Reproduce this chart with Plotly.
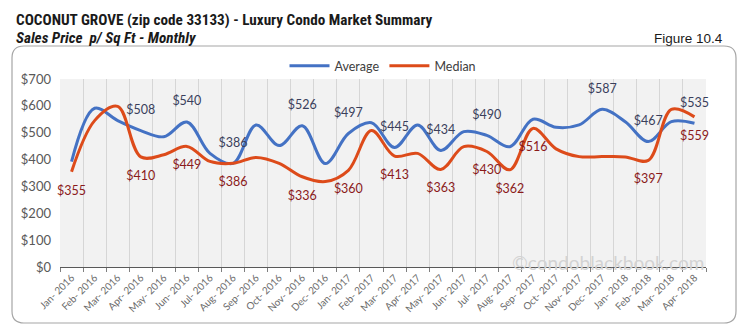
import plotly.graph_objects as go

months = ["Jan- 2016", "Feb- 2016", "Mar- 2016", "Apr- 2016", "May- 2016", "Jun- 2016", "Jul- 2016",
          "Aug- 2016", "Sep- 2016", "Oct- 2016", "Nov- 2016", "Dec- 2016", "Jan- 2017", "Feb- 2017",
          "Mar- 2017", "Apr- 2017", "May- 2017", "Jun- 2017", "Jul- 2017", "Aug- 2017", "Sep- 2017",
          "Oct- 2017", "Nov- 2017", "Dec- 2017", "Jan- 2018", "Feb- 2018", "Mar- 2018", "Apr- 2018"]
average = [392, 591, 545, 508, 485, 540, 423, 386, 529, 452, 526, 385, 497, 537,
           445, 529, 434, 504, 490, 448, 550, 520, 529, 587, 541, 467, 541, 535]
median = [355, 545, 598, 410, 418, 449, 393, 386, 408, 386, 336, 318, 360, 508,
          413, 423, 363, 448, 430, 362, 516, 440, 411, 411, 410, 397, 587, 559]
avg_labeled = {"Apr- 2016", "Jun- 2016", "Aug- 2016", "Nov- 2016", "Jan- 2017", "Mar- 2017",
               "May- 2017", "Jul- 2017", "Dec- 2017", "Feb- 2018", "Apr- 2018"}
med_labeled = {"Jan- 2016", "Apr- 2016", "Jun- 2016", "Aug- 2016", "Nov- 2016", "Jan- 2017",
               "Mar- 2017", "May- 2017", "Jul- 2017", "Aug- 2017", "Sep- 2017", "Feb- 2018", "Apr- 2018"}
y_ticks = [0, 100, 200, 300, 400, 500, 600, 700]

avg_x = [m for m in months if m in avg_labeled]
avg_y = [v for m, v in zip(months, average) if m in avg_labeled]
med_x = [m for m in months if m in med_labeled]
med_y = [v for m, v in zip(months, median) if m in med_labeled]

FONT = "Lato, Open Sans, sans-serif"
NARROW = "Noto Sans Condensed, Roboto Condensed, Open Sans Condensed, Roboto"
fig = go.Figure()
fig.add_trace(go.Scatter(x=months, y=average, name="Average", mode="lines",
                         line=dict(color="#4472C4", width=3, shape="spline", smoothing=1)))
fig.add_trace(go.Scatter(x=months, y=median, name="Median", mode="lines",
                         line=dict(color="#DD4B1A", width=3, shape="spline", smoothing=1)))
fig.add_trace(go.Scatter(x=avg_x, y=avg_y, mode="markers+text", showlegend=False, hoverinfo="skip",
                         marker=dict(size=20, color="rgba(0,0,0,0)"),
                         text=[f"${v}" for v in avg_y], textposition="top center",
                         textfont=dict(color="#3a3f5c", size=12.5, family=FONT), cliponaxis=False))
fig.add_trace(go.Scatter(x=med_x, y=med_y, mode="markers+text", showlegend=False, hoverinfo="skip",
                         marker=dict(size=20, color="rgba(0,0,0,0)"),
                         text=[f"${v}" for v in med_y], textposition="bottom center",
                         textfont=dict(color="#8B1A1A", size=12.5, family=FONT), cliponaxis=False))

L, R, T, B = 60, 706, 79, 267
W, H = 747, 331
def px(x):
    return (x - L) / (R - L)
def py(y):
    return (B - y) / (B - T)

# rounded border
x0, x1, y0, y1 = 12, 736, 46, 323
r = 12
path = (f"M {px(x0+r)},{py(y0)} L {px(x1-r)},{py(y0)} Q {px(x1)},{py(y0)} {px(x1)},{py(y0+r)} "
        f"L {px(x1)},{py(y1-r)} Q {px(x1)},{py(y1)} {px(x1-r)},{py(y1)} "
        f"L {px(x0+r)},{py(y1)} Q {px(x0)},{py(y1)} {px(x0)},{py(y1-r)} "
        f"L {px(x0)},{py(y0+r)} Q {px(x0)},{py(y0)} {px(x0+r)},{py(y0)} Z")

fig.update_layout(
    width=W, height=H,
    margin=dict(l=L, r=W - R, t=T, b=H - B),
    paper_bgcolor="white", plot_bgcolor="#f2f2f2",
    font=dict(family=FONT, color="#595959"),
    showlegend=True,
    legend=dict(orientation="h", x=0.5, xanchor="center", y=py(66), yanchor="middle",
                font=dict(size=12.5, color="#404040", family=FONT), bgcolor="rgba(0,0,0,0)",
                itemwidth=40),
    shapes=[dict(type="path", path=path, xref="paper", yref="paper",
                 line=dict(color="#a6a6a6", width=1.2), layer="below")],
    annotations=[
        dict(text="<b>COCONUT GROVE (zip code 33133) - Luxury Condo Market Summary</b>",
             x=px(14), y=py(20), xref="paper", yref="paper", xanchor="left", yanchor="middle",
             showarrow=False, font=dict(family=NARROW, size=15.2, color="#1a1a1a")),
        dict(text="<b><i>Sales Price  p/ Sq Ft - Monthly</i></b>",
             x=px(14), y=py(38.5), xref="paper", yref="paper", xanchor="left", yanchor="middle",
             showarrow=False, font=dict(family=NARROW, size=15.2, color="#1a1a1a")),
        dict(text="Figure 10.4", x=px(725), y=py(38), xref="paper", yref="paper",
             xanchor="right", yanchor="middle", showarrow=False,
             font=dict(family="Liberation Sans, Arial", size=13.5, color="#1a1a1a")),
        dict(text="©condoblackbook.com", x=1, y=py(262), xref="paper", yref="paper",
             xanchor="right", yanchor="middle", showarrow=False,
             font=dict(family=FONT, size=19, color="#d3d3d3")),
    ],
)
fig.update_xaxes(type="category", tickson="boundaries", showgrid=True, gridcolor="#d6d6d6",
                 gridwidth=1, ticks="outside", ticklen=4, tickcolor="#7f7f7f",
                 showline=True, linecolor="#595959", linewidth=1.2, tickangle=-45,
                 tickfont=dict(size=10, color="#6b6b6b", family=FONT), range=[-0.5, 27.5])
fig.update_yaxes(range=[0, 700], tickvals=y_ticks, ticktext=[f"${v}" for v in y_ticks],
                 showgrid=False, zeroline=False, showline=False,
                 tickfont=dict(size=13, color="#595959", family=FONT), ticks="", ticklabelstandoff=8)

fig.write_html("out.html")
